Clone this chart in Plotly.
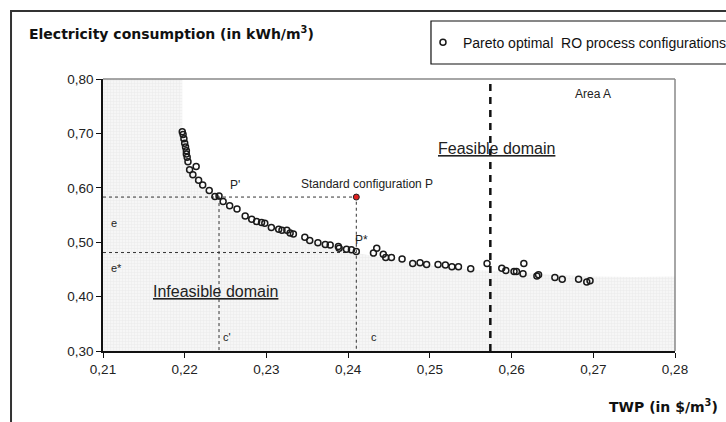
import plotly.graph_objects as go

# Pareto optimal RO process configurations (TWP $/m3, electricity kWh/m3)
pareto_twp = [0.2197, 0.2198, 0.2199, 0.2200, 0.2201, 0.2202, 0.2202, 0.2203, 0.2204, 0.2214,
              0.2206, 0.2210, 0.2217, 0.2222, 0.2230, 0.2237, 0.2242, 0.2247, 0.2255, 0.2264,
              0.2274, 0.2282, 0.2288, 0.2294, 0.2298, 0.2306, 0.2315, 0.2319, 0.2325, 0.2329,
              0.2333, 0.2347, 0.2353, 0.2363, 0.2372, 0.2378, 0.2388, 0.2389, 0.2398, 0.2404,
              0.2410, 0.2431, 0.2435, 0.2443, 0.2446, 0.2453, 0.2466, 0.2479, 0.2488, 0.2496,
              0.2510, 0.2519, 0.2527, 0.2535, 0.2550, 0.2570, 0.2588, 0.2593, 0.2603, 0.2606,
              0.2615, 0.2614, 0.2631, 0.2633, 0.2653, 0.2662, 0.2682, 0.2692, 0.2696]
pareto_elec = [0.703, 0.698, 0.690, 0.682, 0.675, 0.668, 0.662, 0.656, 0.648, 0.639,
               0.633, 0.624, 0.614, 0.605, 0.595, 0.584, 0.585, 0.575, 0.567, 0.561,
               0.548, 0.542, 0.538, 0.536, 0.535, 0.527, 0.524, 0.522, 0.522, 0.517,
               0.515, 0.509, 0.503, 0.499, 0.496, 0.495, 0.492, 0.489, 0.487, 0.486,
               0.483, 0.480, 0.489, 0.478, 0.472, 0.472, 0.469, 0.461, 0.462, 0.459,
               0.459, 0.458, 0.455, 0.455, 0.451, 0.461, 0.452, 0.448, 0.446, 0.446,
               0.461, 0.442, 0.438, 0.440, 0.435, 0.432, 0.432, 0.427, 0.429]

# Standard configuration P
standard_twp = [0.241]
standard_elec = [0.583]

# Infeasible domain boundary
infeasible_twp = [0.21, 0.21, 0.2197, 0.2197, 0.2200, 0.2205, 0.2215, 0.2230, 0.2245, 0.2265,
                  0.2290, 0.2320, 0.2350, 0.2380, 0.2410, 0.2450, 0.2500, 0.2550, 0.2600,
                  0.2650, 0.2700, 0.2750, 0.28, 0.28]
infeasible_elec = [0.30, 0.80, 0.80, 0.700, 0.675, 0.645, 0.615, 0.590, 0.570, 0.552,
                   0.534, 0.518, 0.505, 0.492, 0.480, 0.470, 0.458, 0.450, 0.445,
                   0.440, 0.437, 0.436, 0.437, 0.30]

# Reference lines
p_prime_twp = 0.2242
p_star_elec = 0.481
area_a_twp = 0.2574

x_ticks = [0.21, 0.22, 0.23, 0.24, 0.25, 0.26, 0.27, 0.28]
y_ticks = [0.30, 0.40, 0.50, 0.60, 0.70, 0.80]

FONT = "Liberation Sans, Arial, sans-serif"
TITLE_FONT = "DejaVu Sans, Liberation Sans, sans-serif"

fig = go.Figure()

fig.add_trace(go.Scatter(
    x=infeasible_twp, y=infeasible_elec, mode="lines", fill="toself",
    line=dict(width=0), fillcolor="#f3f3f3",
    fillpattern=dict(shape="+", size=3, fgcolor="#dedede", bgcolor="#f6f6f6", solidity=0.3),
    showlegend=False, hoverinfo="skip"))

dot = dict(color="#333333", width=1, dash="dot")
fig.add_trace(go.Scatter(x=[0.21, standard_twp[0], standard_twp[0]],
                         y=[standard_elec[0], standard_elec[0], 0.30],
                         mode="lines", line=dot, showlegend=False, hoverinfo="skip"))
fig.add_trace(go.Scatter(x=[0.21, standard_twp[0]], y=[p_star_elec, p_star_elec],
                         mode="lines", line=dot, showlegend=False, hoverinfo="skip"))
fig.add_trace(go.Scatter(x=[p_prime_twp, p_prime_twp], y=[standard_elec[0], 0.30],
                         mode="lines", line=dot, showlegend=False, hoverinfo="skip"))
fig.add_trace(go.Scatter(x=[area_a_twp, area_a_twp], y=[0.30, 0.80],
                         mode="lines", line=dict(color="#111111", width=2.5, dash="7px,6px"),
                         showlegend=False, hoverinfo="skip"))

fig.add_trace(go.Scatter(
    x=pareto_twp, y=pareto_elec, mode="markers",
    name="Pareto optimal  RO process configurations",
    marker=dict(symbol="circle-open", size=6, line=dict(width=1.5, color="#1a1a1a"), color="#1a1a1a")))

fig.add_trace(go.Scatter(
    x=standard_twp, y=standard_elec, mode="markers", showlegend=False,
    marker=dict(symbol="circle", size=6, color="#e02020", line=dict(width=1, color="#222222"))))

ann_font = dict(family=FONT, size=12, color="#222222")
small_font = dict(family=FONT, size=11, color="#222222")
big_font = dict(family=FONT, size=16, color="#222222")
annotations = [
    dict(x=0.2675, y=0.772, text="Area A", font=ann_font, xanchor="left"),
    dict(x=0.2582, y=0.673, text="<u>Feasible domain</u>", font=big_font),
    dict(x=0.2238, y=0.410, text="<u>Infeasible domain</u>", font=big_font),
    dict(x=0.2262, y=0.606, text="P'", font=ann_font),
    dict(x=0.2423, y=0.607, text="Standard configuration P", font=ann_font),
    dict(x=0.2406, y=0.504, text="P*", font=ann_font, xanchor="left"),
    dict(x=0.2107, y=0.535, text="e", font=small_font, xanchor="left"),
    dict(x=0.2107, y=0.452, text="e*", font=small_font, xanchor="left"),
    dict(x=0.2244, y=0.326, text="c'", font=small_font, xanchor="left"),
    dict(x=0.2425, y=0.326, text="c", font=small_font, xanchor="left"),
]
for a in annotations:
    a.update(xref="x", yref="y", showarrow=False)

annotations.append(dict(xref="paper", yref="paper", x=-0.1328, y=1.169, xanchor="left", yanchor="middle",
                        text="<b>Electricity consumption (in kWh/m<sup>3</sup>)</b>", showarrow=False,
                        font=dict(family=TITLE_FONT, size=14, color="#111111")))
annotations.append(dict(xref="paper", yref="paper", x=0.881, y=-0.202, xanchor="left", yanchor="middle",
                        text="<b>TWP (in $/m<sup>3</sup>)</b>", showarrow=False,
                        font=dict(family=TITLE_FONT, size=14, color="#111111")))

shapes = [
    # outer frame (clipped by page edges)
    dict(type="rect", xref="paper", yref="paper", x0=-0.1608, x1=1.3, y0=-0.4, y1=1.25,
         line=dict(color="#333333", width=2), layer="below"),
    # legend box
    dict(type="rect", xref="paper", yref="paper", x0=0.5734, x1=1.2, y0=1.0551, y1=1.2132,
         line=dict(color="#111111", width=1.2), fillcolor="white", layer="below"),
    # plot frame top/right in grey
    dict(type="line", xref="paper", yref="paper", x0=0, x1=1, y0=1, y1=1,
         line=dict(color="#888888", width=1.5)),
    dict(type="line", xref="paper", yref="paper", x0=1, x1=1, y0=0, y1=1,
         line=dict(color="#888888", width=1.5)),
]

fig.update_layout(
    width=726, height=422,
    margin=dict(l=103, r=51, t=79, b=71, autoexpand=False),
    paper_bgcolor="white", plot_bgcolor="white",
    separators=",.",
    font=dict(family=FONT, size=13, color="#222222"),
    showlegend=True,
    hovermode=False,
    legend=dict(x=0.5594, y=1.134, xanchor="left", yanchor="middle",
                borderwidth=0, bgcolor="rgba(0,0,0,0)",
                font=dict(family=FONT, size=14, color="#111111"),
                itemwidth=30),
    annotations=annotations,
    shapes=shapes,
    xaxis=dict(range=[0.21, 0.28], tickvals=x_ticks, tickformat=".2f",
               showgrid=False, zeroline=False, showline=True, linecolor="#111111", linewidth=1.5,
               ticks="outside", ticklen=5, tickcolor="#111111",
               tickfont=dict(family=FONT, size=13.5, color="#222222")),
    yaxis=dict(range=[0.30, 0.80], tickvals=y_ticks, tickformat=".2f",
               showgrid=False, zeroline=False, showline=True, linecolor="#111111", linewidth=1.5,
               ticks="outside", ticklen=5, tickcolor="#111111",
               tickfont=dict(family=FONT, size=13.5, color="#222222")),
)

fig.write_html("out.html", config={"displayModeBar": False},
               post_script="document.body.style.margin='0';")
